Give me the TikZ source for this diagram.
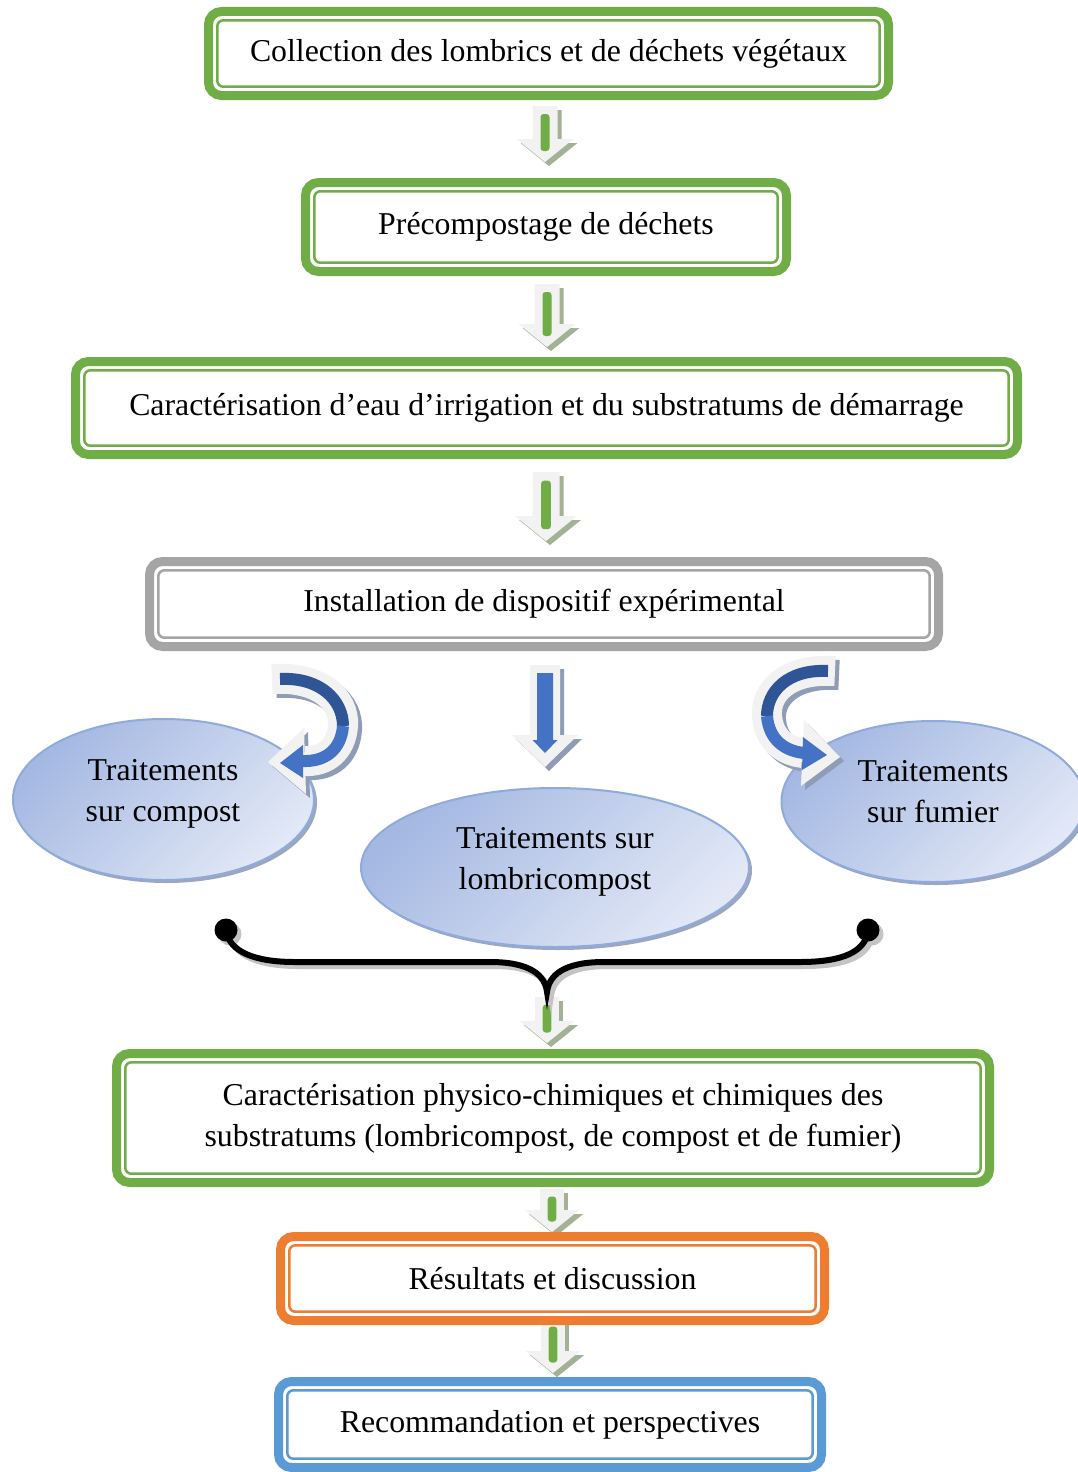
\documentclass[tikz,border=0pt]{standalone}
\usepackage{fontspec}
\setmainfont{Liberation Serif}
\usetikzlibrary{shapes.geometric,calc,shadows}
\definecolor{cgreen}{HTML}{70AD47}
\definecolor{corange}{HTML}{ED7D31}
\definecolor{cblue}{HTML}{5B9BD5}
\definecolor{cgray}{HTML}{A5A5A5}
\definecolor{arrfill}{HTML}{F2F2F2}
\definecolor{gshadow}{HTML}{A3B295}
\definecolor{bshadow}{HTML}{8E9CB6}
\definecolor{bdark}{HTML}{2F5597}
\definecolor{bmid}{HTML}{4472C4}
\definecolor{ellL}{HTML}{A4B8E2}
\definecolor{ellR}{HTML}{E2E8F6}
\definecolor{ellB}{HTML}{8FAADC}
\definecolor{ellS}{HTML}{9CA7BE}
\definecolor{braceS}{HTML}{C4C4C4}

\tikzset{
 txt/.style={font=\fontsize{31.8}{41}\selectfont, align=center, inner sep=0pt},
 dfr/.style={draw=#1, line width=9pt, rounded corners=13pt, inner sep=0pt, outer sep=0pt, txt},
 ell/.style={ellipse, draw=ellB, line width=2pt, left color=ellL, right color=ellR, shading angle=45,
   inner sep=0pt, outer sep=0pt, drop shadow={fill=ellS, opacity=1, shadow xshift=3pt, shadow yshift=-3pt}},
}

\newcommand\dframe[7]{%
 \node[dfr=#6, minimum width=#4pt, minimum height=#5pt] (#1) at (#2,#3) {#7};
 \draw[#6, line width=2.5pt, rounded corners=6pt] ([shift={(8.8pt,-8.8pt)}]#1.north west) rectangle ([shift={(-8.8pt,8.8pt)}]#1.south east);
}
\newcommand\barrowshape[4]{({#1-12.5*#4},{#2}) -- ({#1+12.5*#4},{#2}) -- ({#1+12.5*#4},{#3-23*#4}) -- ({#1+28.5*#4},{#3-23*#4}) -- ({#1},{#3}) -- ({#1-28.5*#4},{#3-23*#4}) -- ({#1-12.5*#4},{#3-23*#4}) -- cycle}
\newcommand\garrow[4]{%
 \fill[gshadow, shift={(4,4)}] \barrowshape{#1}{#2}{#3}{#4};
 \fill[arrfill] \barrowshape{#1}{#2}{#3}{#4};
 \fill[cgreen, rounded corners=3pt] ({#1-4.5*#4},{#2+8*#4}) rectangle ({#1+4.5*#4},{#3-11*#4});
}

\begin{document}
\begin{tikzpicture}[x=1pt,y=-1pt]
\useasboundingbox (0,0) rectangle (1078,1472);
\fill[white] (0,0) rectangle (1078,1472);

% straight block arrows
\garrow{545}{106}{162}{1}
\garrow{547}{284}{347}{1}
\garrow{546}{472}{541}{1.08}
\garrow{547}{997}{1043}{0.95}
\garrow{552}{1189}{1232}{0.95}
\garrow{553}{1319}{1373}{0.95}

% blue block arrow
\fill[bshadow, shift={(4,4)}] (530,665) -- (560,665) -- (560,735) -- (578,735) -- (545,767) -- (512,735) -- (530,735) -- cycle;
\fill[arrfill] (530,665) -- (560,665) -- (560,735) -- (578,735) -- (545,767) -- (512,735) -- (530,735) -- cycle;
\fill[bmid] (537,673) -- (553,673) -- (553,740) -- (557.5,740) -- (545,753) -- (532.5,740) -- (537,740) -- cycle;

% boxes
\dframe{b1}{548.5}{53.5}{680}{84}{cgreen}{Collection des lombrics et de déchets végétaux}
\dframe{b2}{546}{227}{481}{89}{cgreen}{Précompostage de déchets}
\dframe{b3}{546.5}{408}{942}{93}{cgreen}{\raisebox{3pt}{Caractérisation d’eau d’irrigation et du substratums de démarrage}}
\dframe{b4}{544}{604}{789}{85}{cgray}{Installation de dispositif expérimental}
\dframe{b5}{553}{1118}{873}{129}{cgreen}{Caractérisation physico-chimiques et chimiques des\\substratums (lombricompost, de compost et de fumier)}
\dframe{b6}{552.5}{1278.5}{544}{84}{corange}{Résultats et discussion}
\dframe{b7}{550}{1424.5}{543}{86}{cblue}{Recommandation et perspectives}

% ellipses
\node[ell, minimum width=301pt, minimum height=161pt] (e1) at (163.5,799.5) {};
\node[ell, minimum width=388pt, minimum height=159pt] (e2) at (555,867.5) {};
\node[ell, minimum width=303pt, minimum height=161pt] (e3) at (933,801.5) {};
\node[txt] (t1) at (163,794) {Traitements\\sur compost};
\node[txt] (t2) at (555,861.5) {Traitements sur\\lombricompost};
\node[txt] (t3) at (933,791.5) {Traitements\\sur fumier};

% left curved arrow
\begin{scope}[shift={(4,4)}]
 \draw[bshadow, line width=30pt] (272,679) .. controls (320,676) and (345,700) .. (343,726) .. controls (341,750) and (325,762) .. (305,761);
 \fill[bshadow] (304,728) -- (268,762) -- (306,794) -- cycle;
\end{scope}
\draw[arrfill, line width=30pt] (272,679) .. controls (320,676) and (345,700) .. (343,726) .. controls (341,750) and (325,762) .. (305,761);
\fill[arrfill] (304,728) -- (268,762) -- (306,794) -- cycle;
\draw[bdark, line width=12pt] (280,679) .. controls (320,677) and (343,700) .. (343,726);
\draw[bmid, line width=12pt] (343,726) .. controls (341,750) and (325,762) .. (302,761);
\fill[bmid] (303,745) -- (280,763) -- (303,778) -- cycle;

% right curved arrow
\begin{scope}[shift={(4,4)}]
 \draw[bshadow, line width=30pt] (835,671) .. controls (787,668) and (765,692) .. (767,716) .. controls (769,740) and (785,751) .. (803,753);
 \fill[bshadow] (804,720) -- (840,757) -- (801,786) -- cycle;
\end{scope}
\draw[arrfill, line width=30pt] (835,671) .. controls (787,668) and (765,692) .. (767,716) .. controls (769,740) and (785,751) .. (803,753);
\fill[arrfill] (804,720) -- (840,757) -- (801,786) -- cycle;
\draw[bdark, line width=12pt] (828,671) .. controls (787,669) and (767,692) .. (767,716);
\draw[bmid, line width=12pt] (767,716) .. controls (769,740) and (785,751) .. (804,753);
\fill[bmid] (803,737) -- (827,755) -- (802,770) -- cycle;

% brace
\begin{scope}[shift={(4,4)}]
 \draw[braceS, line width=6pt] (226,930) .. controls (229,952) and (255,962) .. (295,962) -- (490,962) .. controls (530,962) and (545,975) .. (547,992) .. controls (549,975) and (564,962) .. (604,962) -- (800,962) .. controls (842,962) and (866,952) .. (868,930);
 \fill[braceS] (226,930) circle (11.5pt);
 \fill[braceS] (868,930) circle (11.5pt);
\end{scope}
\node[circle, fill=black, minimum size=23pt, inner sep=0pt] (dl) at (226,930) {};
\node[circle, fill=black, minimum size=23pt, inner sep=0pt] (dr) at (868,930) {};
\coordinate (bt) at (547,992);
\draw[black, line width=6pt] (dl.center) .. controls (229,952) and (255,962) .. (295,962) -- (490,962) .. controls (530,962) and (545,975) .. (bt) .. controls (549,975) and (564,962) .. (604,962) -- (800,962) .. controls (842,962) and (866,952) .. (dr.center);
\end{tikzpicture}
\end{document}
